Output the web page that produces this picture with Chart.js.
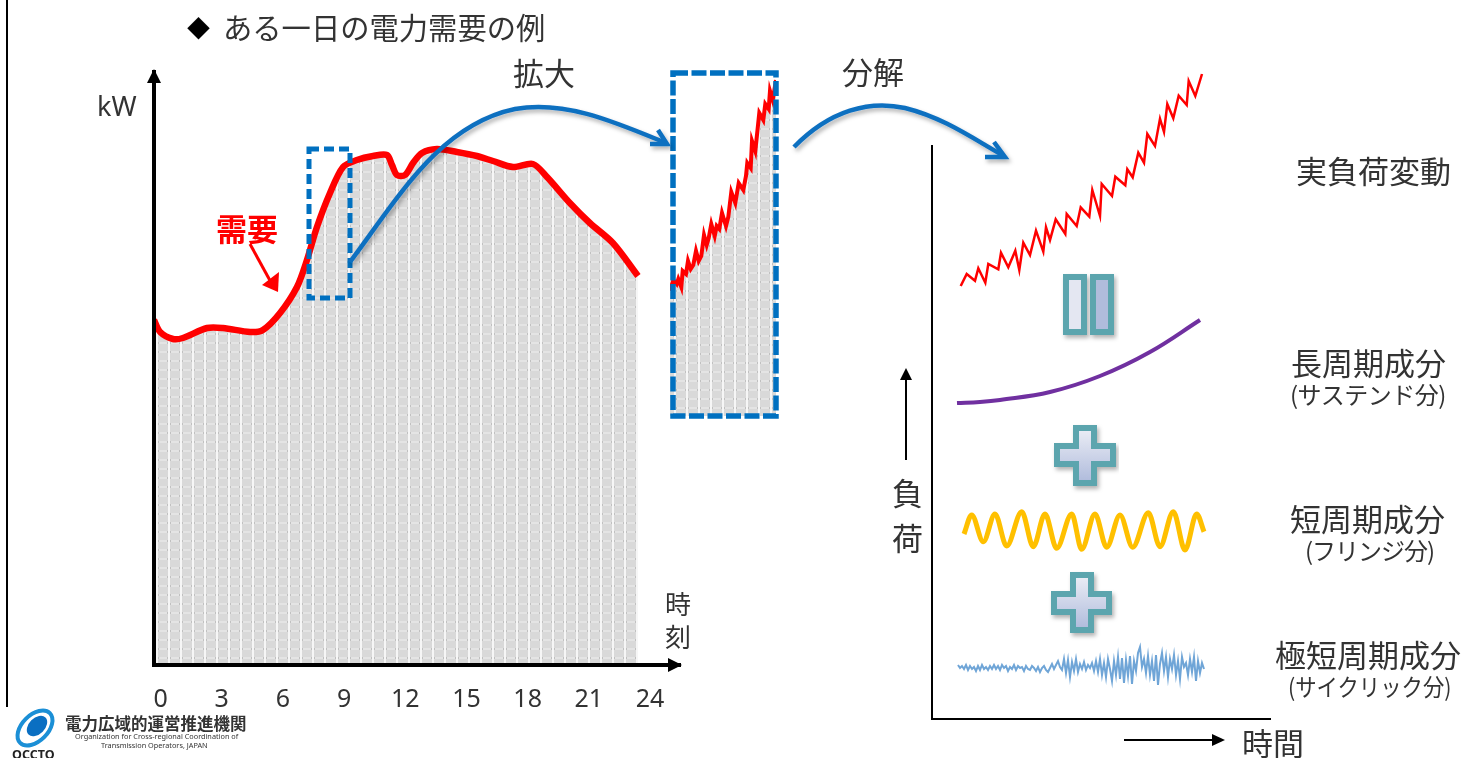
<!DOCTYPE html>
<html lang="ja">
<head>
<meta charset="utf-8">
<title>ある一日の電力需要の例</title>
<script src="https://cdn.jsdelivr.net/npm/chart.js@4"></script>
<style>
  html, body { margin: 0; padding: 0; background: #fff; overflow: hidden; }
  #stage { position: relative; width: 1464px; height: 758px; overflow: hidden; filter: blur(0.4px);
    font-family: "Noto Sans CJK JP", "Noto Sans", sans-serif; color: #333; }
  canvas { position: absolute; }
  svg { position: absolute; left: 0; top: 0; }
  .t { position: absolute; line-height: 1; white-space: nowrap; }
  .big { font-size: 31px; }
  .sub { font-size: 24px; transform-origin: left center; }
</style>
</head>
<body>
<div id="stage">
  <canvas id="dayChart" width="1464" height="758" style="left:0;top:0"></canvas>
  <canvas id="zoomChart" width="122" height="359" style="left:662px;top:65px"></canvas>
  <canvas id="partsChart" width="356" height="668" style="left:923px;top:60px"></canvas>

  <svg width="1464" height="758">
    <defs>
      <filter id="soft" x="-10%" y="-10%" width="120%" height="130%">
        <feDropShadow dx="2" dy="3" stdDeviation="2" flood-color="#000" flood-opacity="0.3"/>
      </filter>
      <linearGradient id="iconFill" x1="0" y1="0" x2="0" y2="1">
        <stop offset="0" stop-color="#eceef6"/>
        <stop offset="1" stop-color="#aebadb"/>
      </linearGradient>
    </defs>

    <line x1="7" y1="0" x2="7" y2="707" stroke="#000" stroke-width="2"/>

    <!-- axis arrow heads -->
    <path d="M154 69 L147 83 L161 83 Z" fill="#000"/>
    <path d="M682 665 L668 658 L668 672 Z" fill="#000"/>

    <!-- zoom boxes -->
    <rect x="309" y="149" width="41" height="149" fill="none" stroke="#0070c0" stroke-width="5" stroke-dasharray="10 5"/>
    <rect x="673" y="73" width="103" height="343" fill="none" stroke="#0070c0" stroke-width="5.5" stroke-dasharray="15 3.5"/>

    <!-- blue curved arrows -->
    <g fill="none" stroke="#0f6fc0" stroke-width="4.5" filter="url(#soft)">
      <path d="M350 262 C400 195 440 125 515 109 C565 100 615 122 666 143"/>
      <path d="M650 144 L667 144 L658 130"/>
      <path d="M794 147 C830 110 870 100 905 108 C945 118 975 140 1004 156"/>
      <path d="M985 157 L1005 157 L994 142"/>
    </g>

    <!-- red pointer -->
    <line x1="250" y1="244" x2="273" y2="286" stroke="#f00" stroke-width="3"/>
    <path d="M278 292 L262 285 L279 272 Z" fill="#f00"/>

    <!-- load and time arrows -->
    <line x1="906" y1="460" x2="906" y2="376" stroke="#000" stroke-width="2"/>
    <path d="M906 368 L900 380 L912 380 Z" fill="#000"/>
    <line x1="1124" y1="740" x2="1214" y2="740" stroke="#000" stroke-width="2"/>
    <path d="M1225 740 L1212 734 L1212 746 Z" fill="#000"/>

    <!-- equals and plus icons -->
    <g stroke="#5ba5ae" stroke-width="6" filter="url(#soft)">
      <rect x="1066" y="277" width="18" height="55" fill="#e4e7f2"/>
      <rect x="1093" y="277" width="18" height="55" fill="#b0bcdc"/>
      <path fill="url(#iconFill)" d="M1076 428 H1094 V446 H1113 V464 H1094 V483 H1076 V464 H1057 V446 H1076 Z"/>
      <path fill="url(#iconFill)" d="M1073 575 H1091 V594 H1109 V612 H1091 V630 H1073 V612 H1054 V594 H1073 Z"/>
    </g>

    <!-- logo mark -->
    <ellipse cx="35" cy="728" rx="21" ry="13" transform="rotate(-45 35 728)" fill="none" stroke="#1b8fd6" stroke-width="4"/>
    <ellipse cx="37" cy="726" rx="12" ry="8" transform="rotate(-45 37 726)" fill="#0a6fc2"/>
  </svg>

  <span class="t" style="left:187px;top:16px;font-size:23px;color:#000">◆</span>
  <span class="t" style="left:223px;top:12px;font-size:29.3px">ある一日の電力需要の例</span>
  <span class="t big" style="left:513px;top:56px">拡大</span>
  <span class="t big" style="left:842px;top:55px">分解</span>
  <span class="t" style="left:97px;top:92px;font-size:27px;font-family:'Noto Sans'">kW</span>
  <span class="t" style="left:216px;top:212px;font-size:31px;font-weight:700;color:#f00">需要</span>
  <span class="t" style="left:665px;top:590px;font-size:26px">時</span>
  <span class="t" style="left:665px;top:623px;font-size:26px">刻</span>
  <span class="t" style="left:1296px;top:154px;font-size:31px">実負荷変動</span>
  <span class="t" style="left:1291px;top:346px;font-size:31px">長周期成分</span>
  <span class="t sub" style="left:1290px;top:382px;letter-spacing:-0.5px">(サステンド分)</span>
  <span class="t" style="left:1290px;top:502px;font-size:31px">短周期成分</span>
  <span class="t sub" style="left:1305px;top:538px;letter-spacing:-1px">(フリンジ分)</span>
  <span class="t" style="left:1275px;top:638px;font-size:31px">極短周期成分</span>
  <span class="t sub" style="left:1288px;top:674px;transform:scaleX(0.89)">(サイクリック分)</span>
  <span class="t big" style="left:892px;top:476px">負</span>
  <span class="t big" style="left:892px;top:521px">荷</span>
  <span class="t" style="left:1242px;top:726px;font-size:31px">時間</span>
  <span class="t" style="left:65px;top:715px;font-size:16.5px;font-weight:700">電力広域的運営推進機関</span>
  <span class="t" style="left:75px;top:733px;font-size:7.3px;font-family:'Noto Sans'">Organization for Cross-regional Coordination of</span>
  <span class="t" style="left:101px;top:742px;font-size:7.3px;font-family:'Noto Sans'">Transmission Operators, JAPAN</span>
  <span class="t" style="left:12px;top:749px;font-size:12.5px;font-weight:700;font-family:'Noto Sans';color:#222">OCCTO</span>
</div>

<script>
// one day of demand, hours vs kW (arbitrary units, no y ticks in the source)
const hourTicks = [0, 3, 6, 9, 12, 15, 18, 21, 24];
const demandHours = [-0.32, -0.02, 0.61, 1.10, 2.28, 3.06, 4.39, 5.02, 5.86, 6.69, 7.18, 7.67, 8.31, 8.95, 9.63, 10.42, 11.10, 11.35, 11.59, 11.99, 12.38, 12.82, 13.55, 14.53, 15.51, 16.30, 17.28, 18.26, 18.95, 20.07, 21.05, 22.18, 23.41];
const demandKw = [69, 66.6, 65.2, 65.4, 67.4, 67.4, 66.6, 67, 70.4, 75.6, 81, 87.6, 94.4, 99.6, 101, 101.8, 102, 100, 98, 98, 100.4, 102.4, 103.2, 102.6, 101.8, 100.8, 99.6, 100.2, 97.6, 92.4, 88.4, 84.4, 77.8];

// enlarged stretch of the morning ramp
const zoomTime = [0, 3.3, 6.7, 8.3, 11.3, 12.7, 16, 18, 20.7, 23.3, 26, 28.7, 31.3, 34, 36.7, 38.7, 41.3, 44.7, 46.7, 49.3, 52, 56, 58.3, 61.3, 65.3, 68.7, 73.3, 76, 77.3, 80.7, 82, 85.3, 89.3, 93.3, 95.3, 98.7, 100, 102.7, 106];
const zoomLoad = [125.3, 136, 132, 137, 129, 145, 142, 155, 147, 151, 165, 155, 160, 181, 171, 178, 192, 180, 190, 187, 203, 190, 199, 224, 213, 233, 226, 240, 253, 248, 275, 265, 303, 296, 312, 307, 325, 316, 336];

// decomposition panel
const actualTime = [28.7, 34.7, 43, 46.3, 53.3, 56.3, 66.3, 69, 76.3, 83.3, 87.3, 91.3, 98, 104, 111.3, 114, 118, 123.7, 133.3, 134.7, 144.7, 148.7, 157.3, 160.3, 168, 169.7, 180, 183.3, 193.3, 195.3, 200.7, 206.3, 212, 215.3, 223, 228, 232, 235.3, 241.3, 246.7, 254.7, 256.7, 263.3, 270];
const actualLoad = [433, 445, 438.3, 450.7, 436.3, 455, 449.7, 466.3, 451.7, 468.3, 449, 476.3, 464, 488.3, 467.3, 491.7, 479, 499.7, 485, 505, 493, 511.7, 502.3, 529, 503, 535, 523, 542.3, 533.7, 549.7, 541.7, 566.3, 556.3, 585, 573, 600.3, 587, 615, 600.7, 623.3, 614, 638, 623, 645];

const longTime = [25, 48, 68, 118, 168, 218, 268];
const longLoad = [316, 317, 319, 327, 343, 367, 399];

const shortTime = [32, 39.7, 51.3, 63, 74.7, 89.7, 101.3, 113, 124.7, 139.7, 149.7, 163, 174.7, 188, 200.7, 216.3, 228, 241.3, 253, 264.7, 272];
const shortLoad = [185, 204, 177.3, 205, 173, 207.3, 172.3, 205, 170.7, 205, 169.7, 205, 171.7, 204, 171.7, 206.3, 172.3, 207.3, 169, 205, 187.3];

const cycleTime = [26, 28, 30, 32, 34, 36, 38, 40, 42, 44, 46, 48, 50, 52, 54, 56, 58, 60, 62, 64, 66, 68, 70, 72, 74, 76, 78, 80, 82, 84, 86, 88, 90, 92, 94, 96, 98, 100, 102, 104, 106, 108, 110, 112, 114, 116, 118, 120, 122, 124, 126, 128, 130, 132, 134, 136, 138, 140, 142, 144, 146, 148, 150, 152, 154, 156, 158, 160, 162, 164, 166, 168, 170, 172, 174, 176, 178, 180, 182, 184, 186, 188, 190, 192, 194, 196, 198, 200, 202, 204, 206, 208, 210, 212, 214, 216, 218, 220, 222, 224, 226, 228, 230, 232, 234, 236, 238, 240, 242, 244, 246, 248, 250, 252, 254, 256, 258, 260, 262, 264, 266, 268, 270, 272];
const cycleLoad = [54, 51, 53, 50, 54, 49, 53, 50, 52, 48, 53, 49, 54, 50, 52, 49, 53, 50, 54, 50, 53, 49, 54, 51, 53, 48, 52, 50, 54, 49, 53, 51, 52, 48, 53, 50, 49, 53, 51, 48, 52, 47, 51, 53, 49, 47, 51, 55, 50, 54, 58, 52, 49, 60, 46, 59, 42, 57, 48, 60, 47, 55, 50, 57, 49, 54, 51, 56, 48, 58, 47, 60, 44, 56, 42, 60, 50, 38, 58, 44, 62, 40, 61, 36, 59, 43, 63, 35, 58, 48, 66, 72, 52, 60, 46, 63, 44, 58, 38, 64, 34, 55, 66, 48, 62, 42, 60, 50, 64, 44, 58, 40, 62, 52, 56, 44, 60, 47, 62, 38, 58, 46, 56, 50];

function pairs(xs, ys) {
  return xs.map((x, i) => ({ x: x, y: ys[i] }));
}

// dotted grey screen used under the demand curve
function screenPattern() {
  const tile = document.createElement('canvas');
  tile.width = 12;
  tile.height = 9;
  const c = tile.getContext('2d');
  c.fillStyle = '#d9d9d9';
  c.fillRect(0, 0, 12, 9);
  c.fillStyle = '#e4e4e4';
  c.fillRect(0, 0, 12, 2);
  c.fillStyle = '#f6f6f6';
  c.fillRect(0, 0, 2, 9);
  c.fillStyle = '#c0c0c0';
  c.fillRect(2, 0, 1, 2);
  c.fillRect(11, 0, 1, 2);
  return c.createPattern(tile, 'repeat');
}

const hidden = { display: false };
const base = { responsive: false, animation: false, plugins: { legend: hidden, tooltip: { enabled: false } } };

new Chart(document.getElementById('dayChart'), {
  type: 'scatter',
  data: {
    datasets: [{
      data: pairs(demandHours, demandKw),
      showLine: true,
      pointRadius: 0,
      borderColor: '#ff0000',
      borderWidth: 6.5,
      tension: 0.3,
      fill: 'origin',
      backgroundColor: screenPattern()
    }]
  },
  options: {
    ...base,
    layout: { padding: { left: 154, right: 784, top: 72, bottom: 43 } },
    scales: {
      x: {
        min: -0.32,
        max: 25.47,
        afterBuildTicks: s => { s.ticks = hourTicks.map(v => ({ value: v })); },
        afterFit: s => { s.height = 50; },
        grid: { display: false },
        border: { color: '#000', width: 4, z: 1 },
        ticks: { color: '#333', padding: 12, maxRotation: 0, autoSkip: false, font: { family: 'Noto Sans', size: 25 } }
      },
      y: {
        min: 0,
        max: 118.6,
        afterFit: s => { s.width = 0; },
        grid: { display: false },
        border: { color: '#000', width: 4, z: 1 },
        ticks: { display: false }
      }
    }
  }
});

new Chart(document.getElementById('zoomChart'), {
  type: 'scatter',
  data: {
    datasets: [{
      data: pairs(zoomTime, zoomLoad),
      showLine: true,
      pointRadius: 0,
      borderColor: '#ff0000',
      borderWidth: 4,
      fill: 'origin',
      backgroundColor: screenPattern()
    }]
  },
  options: {
    ...base,
    layout: { padding: { left: 8, right: 8, top: 8, bottom: 8 } },
    scales: {
      x: { display: false, min: 0, max: 106 },
      y: { display: false, min: 0, max: 343 }
    }
  }
});

new Chart(document.getElementById('partsChart'), {
  type: 'scatter',
  data: {
    datasets: [
      { data: pairs(actualTime, actualLoad), showLine: true, clip: false, pointRadius: 0, borderColor: '#ff0000', borderWidth: 2.5 },
      { data: pairs(longTime, longLoad), showLine: true, pointRadius: 0, borderColor: '#7030a0', borderWidth: 4, tension: 0.4 },
      { data: pairs(shortTime, shortLoad), showLine: true, pointRadius: 0, borderColor: '#ffc000', borderWidth: 5, cubicInterpolationMode: 'monotone' },
      { data: pairs(cycleTime, cycleLoad), showLine: true, pointRadius: 0, borderColor: '#6fa5d7', borderWidth: 2 }
    ]
  },
  options: {
    ...base,
    layout: { padding: { left: 9, right: 9, top: 86, bottom: 9 } },
    scales: {
      x: {
        min: 0,
        max: 338,
        afterFit: s => { s.height = 0; },
        grid: { display: false },
        border: { color: '#000', width: 2 },
        ticks: { display: false }
      },
      y: {
        min: 0,
        max: 573,
        afterFit: s => { s.width = 0; },
        grid: { display: false },
        border: { color: '#000', width: 2 },
        ticks: { display: false }
      }
    }
  }
});
</script>
</body>
</html>
